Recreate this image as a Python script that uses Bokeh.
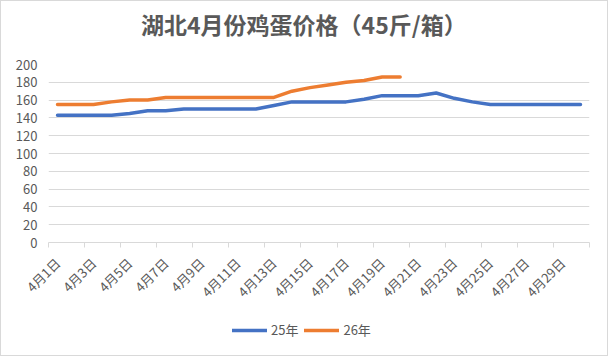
import math
from bokeh.plotting import figure
from bokeh.layouts import column
from bokeh.models import FixedTicker, Range1d, Legend, LegendItem, ColumnDataSource, Label
from bokeh.embed import file_html
from bokeh.resources import INLINE

days = list(range(1, 31))
day_labels = [f"4月{d}日" for d in days]
y25 = [143, 143, 143, 143, 145, 148, 148, 150, 150, 150, 150, 150, 154, 158, 158,
       158, 158, 161, 165, 165, 165, 168, 162, 158, 155, 155, 155, 155, 155, 155]
y26 = [155, 155, 155, 158, 160, 160, 163, 163, 163, 163, 163, 163, 163, 170, 174,
       177, 180, 182, 186, 186]
series_names = ["25年", "26年"]
series_colors = ["#4472C4", "#ED7D31"]
title_text = "湖北4月份鸡蛋价格（45斤/箱）"
y_ticks = list(range(0, 201, 20))

FONT = "Noto Sans CJK SC"
GRAY = "#595959"
GRID = "#d9d9d9"
LW = 3.5
W = 606


def strip(h):
    f = figure(width=W, height=h, output_backend="svg", toolbar_location=None,
               x_range=Range1d(0, W), y_range=Range1d(0, h),
               x_axis_type=None, y_axis_type=None,
               min_border_left=0, min_border_right=0, min_border_top=0, min_border_bottom=0)
    f.outline_line_color = None
    f.xgrid.grid_line_color = None
    f.ygrid.grid_line_color = None
    return f


# title strip
pt = strip(53)
pt.add_layout(Label(x=286, y=31, text=title_text, text_align="center", text_baseline="middle",
                    text_font=FONT, text_font_size="23px", text_font_style="bold",
                    text_color=GRAY))

# main chart
p = figure(width=W, height=258, output_backend="svg", toolbar_location=None,
           x_range=Range1d(0.5, 30.5), y_range=Range1d(0, 200),
           min_border_left=47, min_border_right=18, min_border_top=10,
           min_border_bottom=70)
p.outline_line_color = None

src25 = ColumnDataSource(dict(x=days, y=y25))
src26 = ColumnDataSource(dict(x=days[:len(y26)], y=y26))
p.line("x", "y", source=src25, line_color=series_colors[0], line_width=LW, line_join="round", line_cap="round")
p.line("x", "y", source=src26, line_color=series_colors[1], line_width=LW, line_join="round", line_cap="round")

label_days = days[::2]
p.xaxis.ticker = FixedTicker(ticks=label_days,
                             minor_ticks=[d - 0.5 for d in days[::2]] + [days[-1] + 0.5])
p.xaxis.major_label_overrides = {d: day_labels[d - 1] for d in label_days}
p.xaxis.major_label_orientation = math.pi / 4
p.xaxis.major_tick_line_color = None
p.xaxis.major_tick_out = 0
p.xaxis.minor_tick_line_color = GRID
p.xaxis.minor_tick_in = 0
p.xaxis.minor_tick_out = 5
p.xaxis.axis_line_color = GRID
p.xaxis.major_label_text_font = FONT
p.xaxis.major_label_text_font_size = "13px"
p.xaxis.major_label_text_color = GRAY
p.xaxis.major_label_standoff = 13
p.xgrid.grid_line_color = None

p.yaxis.ticker = FixedTicker(ticks=y_ticks)
p.yaxis.axis_line_color = None
p.yaxis.major_tick_line_color = None
p.yaxis.major_tick_out = 0
p.yaxis.minor_tick_line_color = None
p.yaxis.major_label_text_font = FONT
p.yaxis.major_label_text_font_size = "13px"
p.yaxis.major_label_text_color = GRAY
p.yaxis.major_label_standoff = 11
p.ygrid.grid_line_color = GRID
p.ygrid.grid_line_width = 1

# legend strip (series lines fall outside this strip's frame; only legend glyphs show)
pl = strip(43)
items = []
for name, col, ys in zip(series_names, series_colors, [y25, y26]):
    r = pl.line(x=days[:len(ys)], y=[v + 1000 for v in ys], line_color=col, line_width=LW, line_cap="round")
    items.append(LegendItem(label=name, renderers=[r]))
legend = Legend(items=items, orientation="horizontal", location=(184, 16),
                glyph_width=35, glyph_height=16, label_height=16,
                label_standoff=4, spacing=6, padding=0, margin=0,
                border_line_color=None, background_fill_alpha=0,
                label_text_font=FONT, label_text_font_size="13px",
                label_text_color=GRAY)
pl.add_layout(legend, "center")

layout = column(pt, p, pl, spacing=0, styles={"border": "1px solid #d9d9d9"})
open("out.html", "w").write(file_html(layout, INLINE))
